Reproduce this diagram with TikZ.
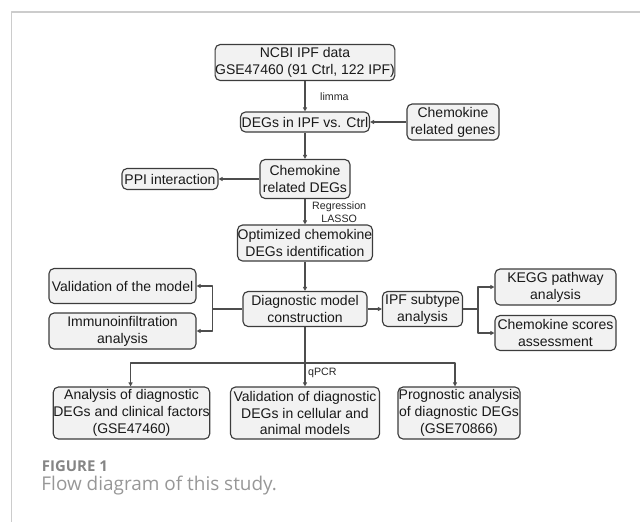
\documentclass[tikz,border=0pt]{standalone}
\usepackage{fontspec}
\setmainfont{Liberation Sans}
\newfontfamily\capfont{Open Sans}
\usetikzlibrary{arrows.meta}
\definecolor{boxfill}{HTML}{F2F2F2}
\definecolor{boxline}{HTML}{3C3C3C}
\definecolor{arrline}{HTML}{4D4D4D}
\definecolor{framegray}{HTML}{CCCCCC}
\definecolor{capgray}{HTML}{858585}
\begin{document}
\begin{tikzpicture}[x=0.75pt,y=-0.75pt,>={Triangle[length=3pt,width=3pt]},line join=round,
font=\fontsize{10.5}{12.6}\selectfont,
box/.style={draw=boxline,line width=0.85pt,fill=boxfill,rounded corners=3.8pt,align=center,inner sep=0pt,text=black!90},
lbl/.style={font=\fontsize{8}{9.8}\selectfont,align=center,inner sep=1pt,text=black!85},
conn/.style={draw=arrline,line width=0.8pt}]
\useasboundingbox (0,0) rectangle (640,522);
\draw[framegray,line width=0.8pt] (640,12)--(11.5,12)--(11.5,522);
\path
(305,62.5) node[box,minimum width=134.25pt,minimum height=27pt] (ncbi) {NCBI IPF data\\GSE47460 (91 Ctrl, 122 IPF)}
(305,122) node[box,minimum width=96.75pt,minimum height=15pt] (degs) {DEGs in IPF vs. Ctrl}
(453,122) node[box,minimum width=69pt,minimum height=27pt] (chemgenes) {Chemokine\\related genes}
(305,179) node[box,minimum width=67.5pt,minimum height=29.25pt] (chemdegs) {Chemokine\\related DEGs}
(170,179) node[box,minimum width=72pt,minimum height=15.75pt] (ppi) {PPI interaction}
(305,243) node[box,minimum width=101.25pt,minimum height=27pt] (optim) {Optimized chemokine\\DEGs identification}
(122.5,286) node[box,minimum width=110.25pt,minimum height=26.25pt] (valmodel) {Validation of the model}
(122.5,331) node[box,minimum width=110.25pt,minimum height=27pt] (immuno) {Immunoinfiltration\\analysis}
(305,309) node[box,minimum width=93pt,minimum height=26.25pt] (diag) {Diagnostic model\\construction}
(422.5,309) node[box,minimum width=60pt,minimum height=26.25pt] (subtype) {IPF subtype\\analysis}
(555.5,287) node[box,minimum width=90.75pt,minimum height=27pt] (kegg) {KEGG pathway\\analysis}
(555.5,333) node[box,minimum width=90.75pt,minimum height=26.25pt] (scores) {Chemokine scores\\assessment}
(131.5,413) node[box,minimum width=116.25pt,minimum height=39pt] (analysis) {Analysis of diagnostic\\DEGs and clinical factors\\(GSE47460)}
(305,413) node[box,minimum width=111.75pt,minimum height=39pt] (valdiag) {Validation of diagnostic\\DEGs in cellular and\\animal models}
(459,413) node[box,minimum width=91.5pt,minimum height=39pt] (prog) {Prognostic analysis\\of diagnostic DEGs\\(GSE70866)}
;
\coordinate (jl) at (212.5,309);
\coordinate (jr) at (478,309);
\coordinate (jb) at (305,363);
\draw[conn,->] (ncbi) -- node[lbl,right=10pt]{limma} (degs);
\draw[conn,->] (chemgenes) -- (degs);
\draw[conn,->] (degs) -- (chemdegs);
\draw[conn,->] (chemdegs) -- (ppi);
\draw[conn,->] (chemdegs) -- node[lbl,right=4pt]{Regression\\LASSO} (optim);
\draw[conn,->] (optim) -- (diag);
\draw[conn] (diag) -- (jl);
\draw[conn,->] (jl) |- (valmodel);
\draw[conn,->] (jl) |- (immuno);
\draw[conn,->] (diag) -- (subtype);
\draw[conn] (subtype) -- (jr);
\draw[conn,->] (jr) |- (kegg);
\draw[conn,->] (jr) |- (scores);
\draw[conn,->] (diag) -- node[lbl,pos=0.77,anchor=west,xshift=1pt]{qPCR} (valdiag);
\draw[conn,->] (jb) -| ([xshift=-0.7pt]analysis.north);
\draw[conn,->] (jb) -| ([xshift=-3pt]prog.north);
\path
(41.7,471.7) node[anchor=base west,inner sep=0pt,text=capgray,font=\capfont\bfseries\fontsize{11.2}{13}\selectfont] (figlbl) {FIGURE 1}
(41.2,490) node[anchor=base west,inner sep=0pt,text=capgray!85,font=\capfont\fontsize{14.2}{16}\selectfont] (figcap) {Flow diagram of this study.}
;
\end{tikzpicture}
\end{document}
